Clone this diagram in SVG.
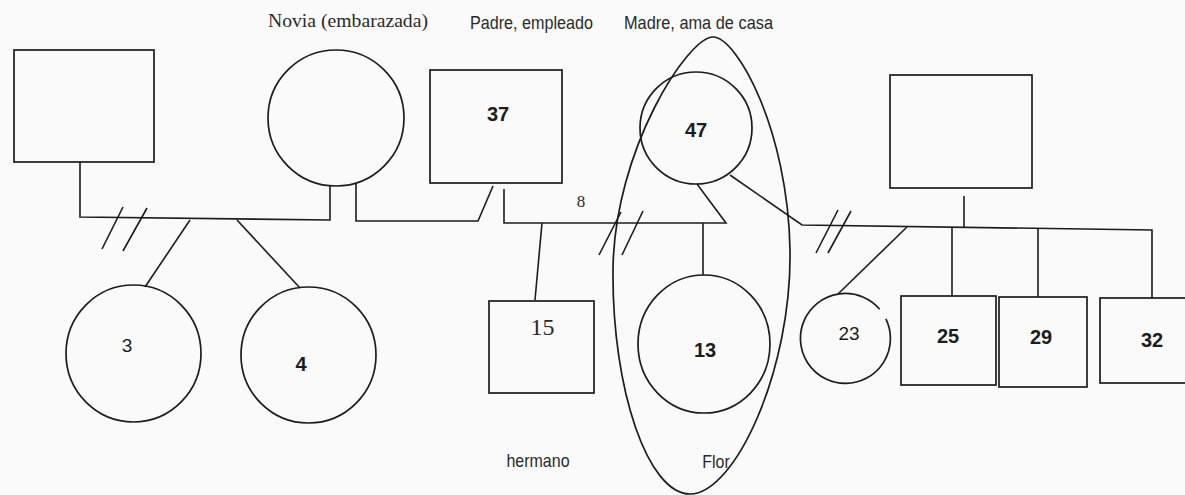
<svg xmlns="http://www.w3.org/2000/svg" width="1185" height="495" viewBox="0 0 1185 495">
<style>
.s{fill:none;stroke:#1c1c1c;stroke-width:1.7;stroke-linejoin:miter}
.l{fill:none;stroke:#1c1c1c;stroke-width:1.6}
.lab{font-family:"Liberation Sans",Arial,sans-serif;font-size:16px;fill:#2a2a2a}
.ser{font-family:"Liberation Serif","Times New Roman",serif;fill:#2a2a2a}
.num{font-family:"Liberation Sans",Arial,sans-serif;font-size:20px;font-weight:bold;fill:#1c1c1c;text-anchor:middle}
.numr{font-family:"Liberation Sans",Arial,sans-serif;font-size:19px;fill:#1c1c1c;text-anchor:middle}
</style>
<rect x="0" y="0" width="1185" height="495" fill="#fafafa"/>
<g id="connectors">
<path class="l" d="M80,162 V217 L330,220 V186"/>
<path class="l" d="M123,207 L102,249 M147,208 L123,251"/>
<path class="l" d="M190,220 L145,287"/>
<path class="l" d="M237,220 L300,288"/>
<path class="l" d="M356,184 V221 H478 L493,186"/>
<path class="l" d="M504,189 V223 H726 L697,184"/>
<path class="l" d="M621,212 L599,255 M643,211 L622,255"/>
<path class="l" d="M542,223 L535,300"/>
<path class="l" d="M703,223 V275"/>
<path class="l" d="M730,175 L802,225 L1152,230 V298"/>
<path class="l" d="M964,196 V228"/>
<path class="l" d="M838,210 L816,253 M851,211 L828,253"/>
<path class="l" d="M907,227 L838,294"/>
<path class="l" d="M952,228 V296"/>
<path class="l" d="M1038,229 V297"/>
<text class="ser" x="581" y="207" font-size="17" text-anchor="middle">8</text>
</g>
<g id="node-left-man">
<rect class="s" x="14" y="50" width="140" height="112"/>
</g>
<g id="node-novia">
<circle class="s" cx="336" cy="118" r="68"/>
<text class="ser" transform="translate(268,27) scale(1,1.12)" x="0" y="0" font-size="17" textLength="160" lengthAdjust="spacingAndGlyphs">Novia (embarazada)</text>
</g>
<g id="node-3">
<ellipse class="s" cx="133.5" cy="353.5" rx="67.5" ry="68.5"/>
<text class="numr" x="127" y="352">3</text>
</g>
<g id="node-4">
<ellipse class="s" cx="308.5" cy="355" rx="67.5" ry="68"/>
<text class="num" x="301" y="371" font-size="22">4</text>
</g>
<g id="node-padre">
<rect class="s" x="430" y="70" width="132" height="113"/>
<text class="num" x="498" y="121">37</text>
<text class="lab" transform="translate(470,29) scale(1,1.18)" x="0" y="0" textLength="123" lengthAdjust="spacingAndGlyphs">Padre, empleado</text>
</g>
<g id="node-madre">
<circle class="s" cx="696" cy="128" r="56"/>
<text class="num" x="696" y="137" font-size="21">47</text>
<text class="lab" transform="translate(624,29) scale(1,1.18)" x="0" y="0" textLength="149" lengthAdjust="spacingAndGlyphs">Madre, ama de casa</text>
</g>
<g id="node-hermano">
<rect class="s" x="489" y="301" width="105" height="92"/>
<text class="ser" x="542.5" y="335" font-size="24" text-anchor="middle">15</text>
<text class="lab" transform="translate(538,467) scale(1,1.15)" x="0" y="0" text-anchor="middle">hermano</text>
</g>
<g id="node-flor">
<path class="s" d="M713,37 C737,37 788,130 790,250 C792,370 735,494 690,494 C648,494 612,390 613,270 C614,150 688,37 713,37 Z"/>
<ellipse class="s" cx="704" cy="344" rx="66" ry="69"/>
<text class="num" x="705" y="357">13</text>
<text class="lab" transform="translate(716,468) scale(1,1.15)" x="0" y="0" text-anchor="middle">Flor</text>
</g>
<g id="node-right-man">
<rect class="s" x="890" y="75" width="142" height="113"/>
</g>
<g id="node-23">
<path class="s" d="M885.9,318.8 A45,45 0 1 1 879.7,309.3"/>
<text class="numr" x="849" y="340">23</text>
</g>
<g id="node-25">
<rect class="s" x="901" y="296" width="95" height="89"/>
<text class="num" x="948" y="343">25</text>
</g>
<g id="node-29">
<rect class="s" x="999" y="297" width="88" height="90"/>
<text class="num" x="1041" y="344">29</text>
</g>
<g id="node-32">
<rect class="s" x="1100" y="298" width="95" height="85"/>
<text class="num" x="1152" y="347">32</text>
</g>
</svg>
